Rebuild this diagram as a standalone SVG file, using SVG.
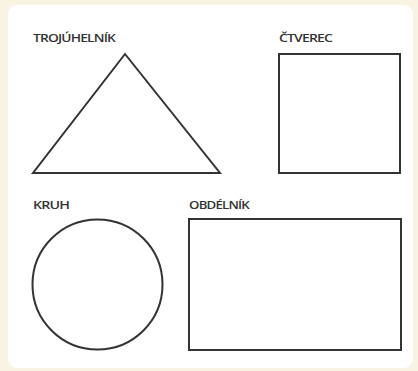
<svg xmlns="http://www.w3.org/2000/svg" width="418" height="371" viewBox="0 0 418 371">
<style>
.shape{fill:#fff;stroke:#333;stroke-width:2;stroke-linejoin:miter}
.lbl{font-family:"Open Sans","Liberation Sans",sans-serif;font-size:10px;font-weight:600;fill:#333;letter-spacing:-0.6px}
</style>
<rect x="0" y="0" width="418" height="371" fill="#f9f3e4"/>
<rect x="8" y="5" width="405" height="363" rx="9" fill="#fff"/>
<g id="trojuhelnik">
<text class="lbl" x="33" y="42" textLength="82" lengthAdjust="spacingAndGlyphs">TROJÚHELNÍK</text>
<polygon class="shape" points="125,54 220,173 33,173"/>
</g>
<g id="ctverec">
<text class="lbl" x="279" y="42" textLength="53" lengthAdjust="spacingAndGlyphs">ČTVEREC</text>
<rect class="shape" x="279" y="54" width="121" height="119"/>
</g>
<g id="kruh">
<text class="lbl" x="33" y="209" textLength="36" lengthAdjust="spacingAndGlyphs">KRUH</text>
<circle class="shape" cx="97.5" cy="284.5" r="65"/>
</g>
<g id="obdelnik">
<text class="lbl" x="189" y="209" textLength="60" lengthAdjust="spacingAndGlyphs">OBDÉLNÍK</text>
<rect class="shape" x="189" y="219" width="212" height="131"/>
</g>
<g id="connectors"/>
</svg>
